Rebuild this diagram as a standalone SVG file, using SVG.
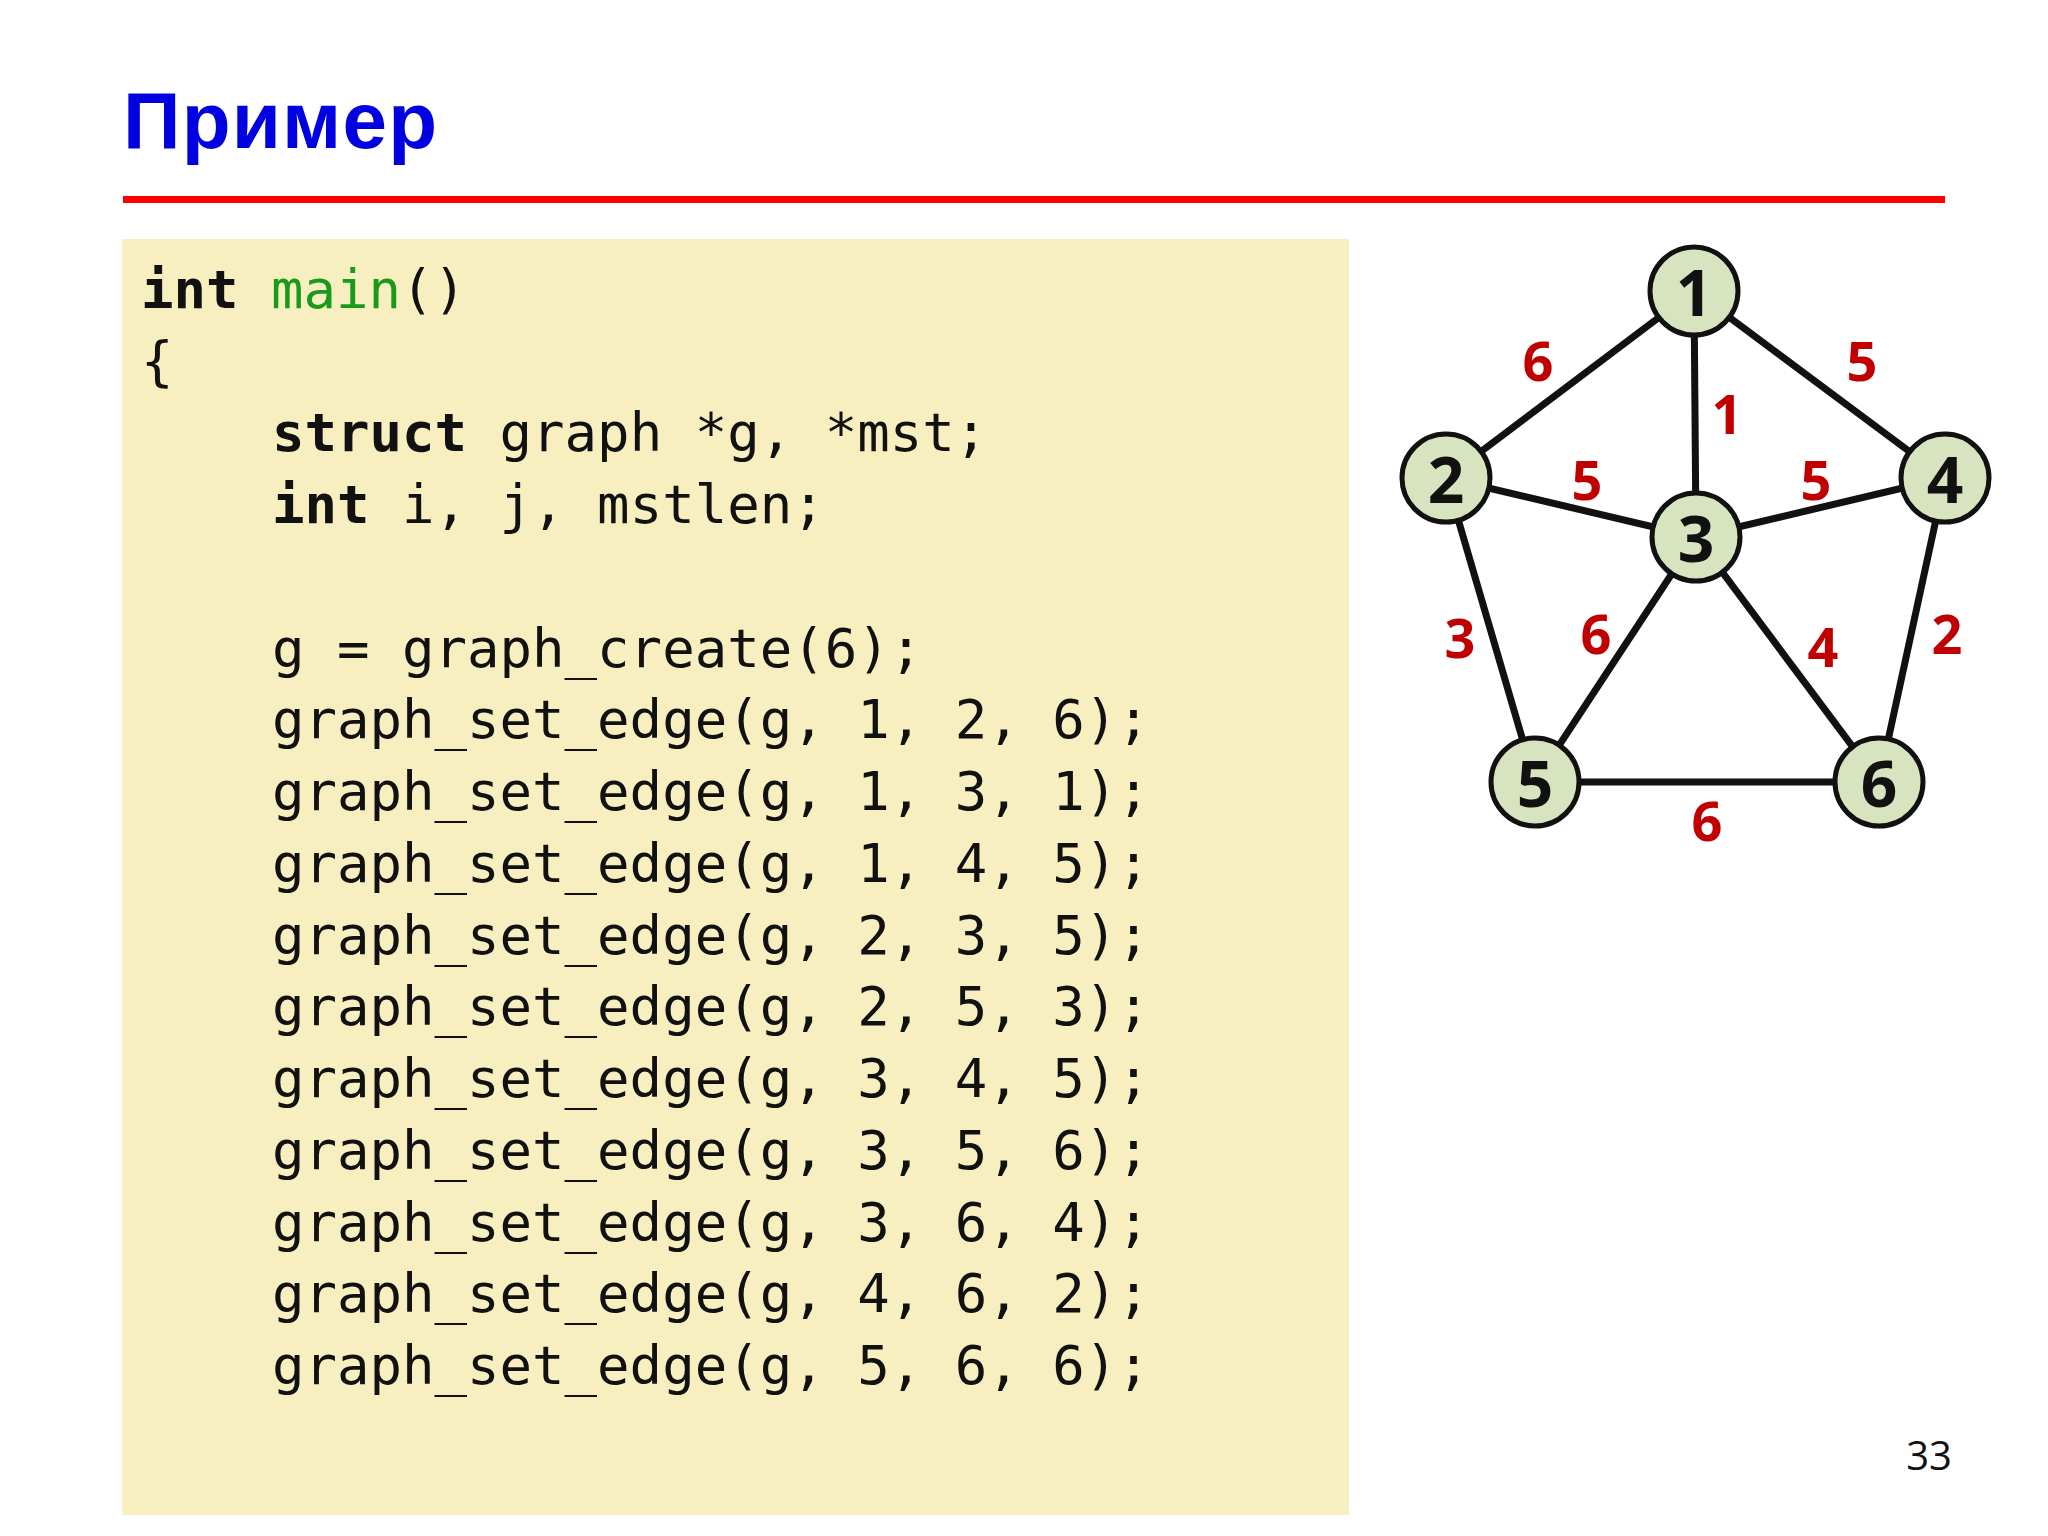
<svg xmlns="http://www.w3.org/2000/svg" width="2048" height="1536" viewBox="0 0 2048 1536">
<style>
.code{font-family:"DejaVu Sans Mono","Liberation Mono",monospace;font-size:54px;fill:#111}
.kw{font-weight:bold}
.fn{fill:#1a9a1a}
.nd circle{fill:#d8e4c0;stroke:#111;stroke-width:5}
.nd text{font-family:"Open Sans","DejaVu Sans",sans-serif;font-weight:bold;font-size:64px;fill:#111;text-anchor:middle;dominant-baseline:central}
.wl{font-family:"Open Sans","DejaVu Sans",sans-serif;font-weight:bold;font-size:54px;fill:#c00000;text-anchor:middle;dominant-baseline:central}
#edges line{stroke:#111;stroke-width:7}
</style>
<rect width="2048" height="1536" fill="#fff"/>
<text x="123" y="148" font-family="Liberation Sans,Arial,sans-serif" font-weight="bold" font-size="80" fill="#0000e0" textLength="314">Пример</text>
<rect x="123" y="196" width="1822" height="7" fill="#f00"/>
<rect x="122" y="239" width="1227" height="1276" fill="#f7efc0"/>
<g class="code">
<text x="141" y="308"><tspan class="kw">int</tspan> <tspan class="fn">main</tspan>()</text>
<text x="141" y="380">{</text>
<text x="272" y="451"><tspan class="kw">struct</tspan> graph *g, *mst;</text>
<text x="272" y="523"><tspan class="kw">int</tspan> i, j, mstlen;</text>
<text x="272" y="667">g = graph_create(6);</text>
<text x="272" y="738">graph_set_edge(g, 1, 2, 6);</text>
<text x="272" y="810">graph_set_edge(g, 1, 3, 1);</text>
<text x="272" y="882">graph_set_edge(g, 1, 4, 5);</text>
<text x="272" y="954">graph_set_edge(g, 2, 3, 5);</text>
<text x="272" y="1025">graph_set_edge(g, 2, 5, 3);</text>
<text x="272" y="1097">graph_set_edge(g, 3, 4, 5);</text>
<text x="272" y="1169">graph_set_edge(g, 3, 5, 6);</text>
<text x="272" y="1241">graph_set_edge(g, 3, 6, 4);</text>
<text x="272" y="1312">graph_set_edge(g, 4, 6, 2);</text>
<text x="272" y="1384">graph_set_edge(g, 5, 6, 6);</text>
</g>
<g id="edges">
<line x1="1694" y1="291" x2="1446" y2="478"/>
<line x1="1694" y1="291" x2="1696" y2="537"/>
<line x1="1694" y1="291" x2="1945" y2="478"/>
<line x1="1446" y1="478" x2="1696" y2="537"/>
<line x1="1446" y1="478" x2="1535" y2="782"/>
<line x1="1696" y1="537" x2="1945" y2="478"/>
<line x1="1696" y1="537" x2="1535" y2="782"/>
<line x1="1696" y1="537" x2="1879" y2="782"/>
<line x1="1945" y1="478" x2="1879" y2="782"/>
<line x1="1535" y1="782" x2="1879" y2="782"/>
</g>
<g id="weights">
<text class="wl" x="1538" y="360">6</text>
<text class="wl" x="1862" y="360">5</text>
<text class="wl" x="1727" y="413">1</text>
<text class="wl" x="1587" y="479">5</text>
<text class="wl" x="1816" y="479">5</text>
<text class="wl" x="1460" y="637">3</text>
<text class="wl" x="1596" y="633">6</text>
<text class="wl" x="1823" y="646">4</text>
<text class="wl" x="1947" y="633">2</text>
<text class="wl" x="1707" y="820">6</text>
</g>
<g id="n1" class="nd"><circle cx="1694" cy="291" r="44"/><text x="1694" y="291">1</text></g>
<g id="n2" class="nd"><circle cx="1446" cy="478" r="44"/><text x="1446" y="478">2</text></g>
<g id="n3" class="nd"><circle cx="1696" cy="537" r="44"/><text x="1696" y="537">3</text></g>
<g id="n4" class="nd"><circle cx="1945" cy="478" r="44"/><text x="1945" y="478">4</text></g>
<g id="n5" class="nd"><circle cx="1535" cy="782" r="44"/><text x="1535" y="782">5</text></g>
<g id="n6" class="nd"><circle cx="1879" cy="782" r="44"/><text x="1879" y="782">6</text></g>
<text x="1952" y="1470" text-anchor="end" font-family="Open Sans,DejaVu Sans,sans-serif" font-size="40" fill="#111">33</text>
</svg>
